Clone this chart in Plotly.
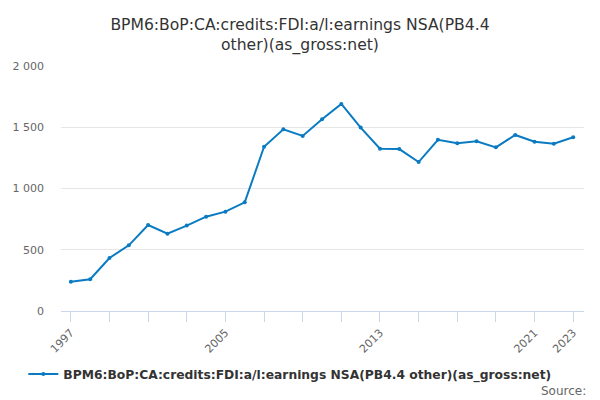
import plotly.graph_objects as go

years = list(range(1997, 2024))
values = [239, 259, 433, 536, 702, 631, 697, 770, 811, 887, 1341, 1483, 1429, 1565,
          1690, 1497, 1325, 1322, 1216, 1398, 1369, 1385, 1336, 1437, 1382, 1366, 1418]
series_name = "BPM6:BoP:CA:credits:FDI:a/l:earnings NSA(PB4.4 other)(as_gross:net)"
title_text = "BPM6:BoP:CA:credits:FDI:a/l:earnings NSA(PB4.4<br>other)(as_gross:net)"
tick_years = list(range(1997, 2024, 2))
labeled = {1997, 2005, 2013, 2021, 2023}
tick_text = [str(y) if y in labeled else "" for y in tick_years]
y_ticks = [0, 500, 1000, 1500, 2000]

color = "#0a7bc2"
fig = go.Figure()
fig.add_trace(go.Scatter(
    x=years, y=values, mode="lines+markers", name="<b>" + series_name + "</b>",
    line=dict(color=color, width=2), marker=dict(size=4, color=color),
))
fig.update_layout(
    width=600, height=400,
    margin=dict(l=56, r=16, t=66, b=89),
    paper_bgcolor="white", plot_bgcolor="white",
    font=dict(family="DejaVu Sans", color="#666666", size=11),
    separators=". ",
    title=dict(text=title_text, x=0.5, xanchor="center", y=0.925, yanchor="middle",
               font=dict(size=15.6, color="#333333")),
    showlegend=True,
    legend=dict(orientation="h", x=0.4375, xanchor="center", y=-0.257, yanchor="middle",
                font=dict(size=12.3, color="#333333", family="DejaVu Sans"),
                itemwidth=30),
    xaxis=dict(range=[1996.49, 2023.56], tickmode="array", tickvals=tick_years,
               ticktext=tick_text, tickangle=-45, ticks="outside", ticklen=10,
               tickcolor="#ccd6eb", showline=True, linecolor="#ccd6eb",
               showgrid=False, zeroline=False, tickfont=dict(size=11, color="#666666")),
    yaxis=dict(range=[0, 2000], tickmode="array", tickvals=y_ticks, tickformat=",d",
               showgrid=True, gridcolor="#e6e6e6", zeroline=False, showline=False,
               tickfont=dict(size=11, color="#666666"), ticklabelstandoff=16),
)
fig.add_annotation(text="Source:", xref="paper", yref="paper", x=1.0, xanchor="right",
                   y=(311 - 391) / 245, yanchor="middle", showarrow=False,
                   font=dict(size=12, color="#666666"), xshift=4)
fig.write_html("out.html")
